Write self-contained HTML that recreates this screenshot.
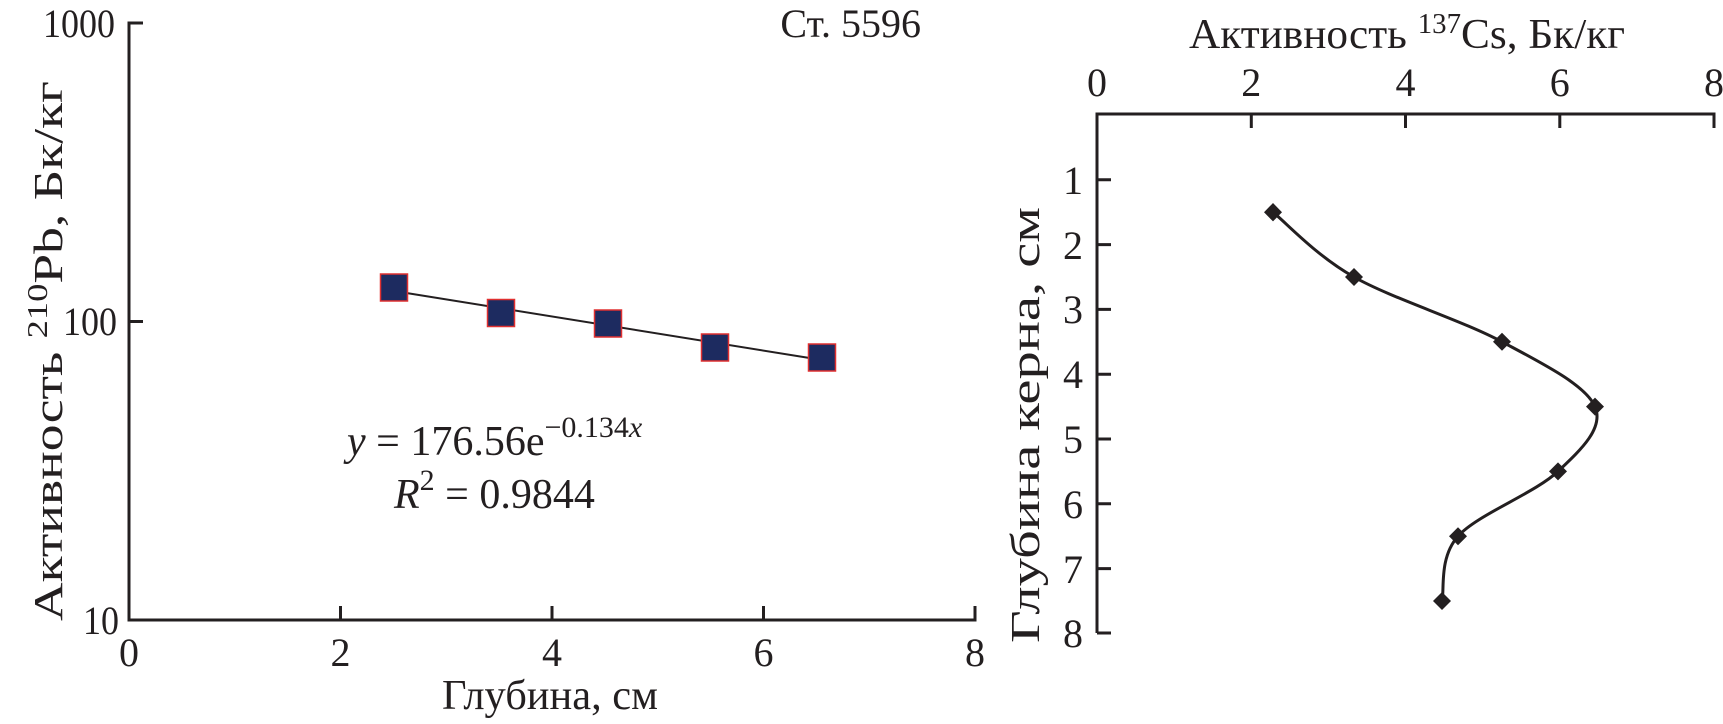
<!DOCTYPE html>
<html><head><meta charset="utf-8"><style>
html,body{margin:0;padding:0;background:#fff;}
svg{display:block;}
text{font-family:"Liberation Serif",serif;fill:#231f20;}
</style></head><body>
<svg width="1723" height="724" viewBox="0 0 1723 724" xmlns="http://www.w3.org/2000/svg">
<g stroke="#231f20" stroke-width="3" fill="none">
  <path d="M143,23 H129 V620 H975 V606"/>
  <path d="M340.5,620 V606 M552,620 V606 M763.5,620 V606 M129,321.5 H143"/>
  <path d="M1097,633 H1111 M1097,633 V114 H1714 V128"/>
  <path d="M1251.3,114 V128 M1405.5,114 V128 M1559.8,114 V128"/>
  <path d="M1097,179.8 H1111 M1097,244.6 H1111 M1097,309.4 H1111 M1097,374.2 H1111 M1097,439 H1111 M1097,503.8 H1111 M1097,568.6 H1111"/>
</g>
<g font-size="40">
  <text x="115" y="37" text-anchor="end" textLength="72" lengthAdjust="spacingAndGlyphs">1000</text>
  <text x="117" y="335" text-anchor="end" textLength="54" lengthAdjust="spacingAndGlyphs">100</text>
  <text x="119" y="634" text-anchor="end" textLength="36" lengthAdjust="spacingAndGlyphs">10</text>
  <text x="129" y="666" text-anchor="middle">0</text>
  <text x="340.5" y="666" text-anchor="middle">2</text>
  <text x="552" y="666" text-anchor="middle">4</text>
  <text x="763.5" y="666" text-anchor="middle">6</text>
  <text x="975" y="666" text-anchor="middle">8</text>
  <text x="442" y="709" font-size="42" textLength="216" lengthAdjust="spacingAndGlyphs">Глубина, см</text>
  <text x="921" y="37" text-anchor="end">Ст. 5596</text>
  <text transform="translate(62,621) rotate(-90)" font-size="41" textLength="540" lengthAdjust="spacingAndGlyphs">Активность <tspan font-size="28" dy="-15">210</tspan><tspan dy="15">Pb, Бк/кг</tspan></text>
  <text x="1097" y="96" text-anchor="middle">0</text>
  <text x="1251.3" y="96" text-anchor="middle">2</text>
  <text x="1405.5" y="96" text-anchor="middle">4</text>
  <text x="1559.8" y="96" text-anchor="middle">6</text>
  <text x="1714" y="96" text-anchor="middle">8</text>
  <text x="1189" y="48" font-size="42" textLength="436" lengthAdjust="spacingAndGlyphs">Активность <tspan font-size="28" dy="-15">137</tspan><tspan dy="15">Cs, Бк/кг</tspan></text>
  <text x="1083" y="194" text-anchor="end">1</text>
  <text x="1083" y="259" text-anchor="end">2</text>
  <text x="1083" y="323" text-anchor="end">3</text>
  <text x="1083" y="388" text-anchor="end">4</text>
  <text x="1083" y="453" text-anchor="end">5</text>
  <text x="1083" y="518" text-anchor="end">6</text>
  <text x="1083" y="583" text-anchor="end">7</text>
  <text x="1083" y="647" text-anchor="end">8</text>
  <text transform="translate(1039,643) rotate(-90)" font-size="41" textLength="436" lengthAdjust="spacingAndGlyphs">Глубина керна, см</text>
</g>
<g font-size="42">
  <text x="347" y="455"><tspan font-style="italic">y</tspan> = 176.56e<tspan font-size="30" dy="-18">−0.134<tspan font-style="italic">x</tspan></tspan></text>
  <text x="394" y="508"><tspan font-style="italic">R</tspan><tspan font-size="30" dy="-18">2</tspan><tspan dy="18"> = 0.9844</tspan></text>
</g>
<line x1="394" y1="291" x2="822" y2="360" stroke="#231f20" stroke-width="2"/>
<g fill="#1d2b60" stroke="#e03030" stroke-width="1.5">
  <rect x="380.5" y="274" width="27" height="27"/>
  <rect x="487.5" y="299.5" width="27" height="27"/>
  <rect x="594.5" y="310" width="27" height="27"/>
  <rect x="701.5" y="334" width="27" height="27"/>
  <rect x="808.5" y="344" width="27" height="27"/>
</g>
<path d="M1273,212.2 C1286.5,223 1315.8,255.4 1354,277 C1392.2,298.6 1461.8,320.2 1502,341.8 C1542.2,363.4 1585.7,385 1595,406.6 C1604.3,428.2 1580.8,449.8 1558,471.4 C1535.2,493 1477.3,514.6 1458,536.2 C1438.7,557.8 1444.7,590.2 1442,601" fill="none" stroke="#231f20" stroke-width="3"/>
<g fill="#231f20">
  <path d="M1273,203 l9,9.2 l-9,9.2 l-9,-9.2z"/>
  <path d="M1354,268 l9,9 l-9,9 l-9,-9z"/>
  <path d="M1502,332.8 l9,9 l-9,9 l-9,-9z"/>
  <path d="M1595,397.6 l9,9 l-9,9 l-9,-9z"/>
  <path d="M1558,462.4 l9,9 l-9,9 l-9,-9z"/>
  <path d="M1458,527.2 l9,9 l-9,9 l-9,-9z"/>
  <path d="M1442,592 l9,9 l-9,9 l-9,-9z"/>
</g>
</svg>
</body></html>
